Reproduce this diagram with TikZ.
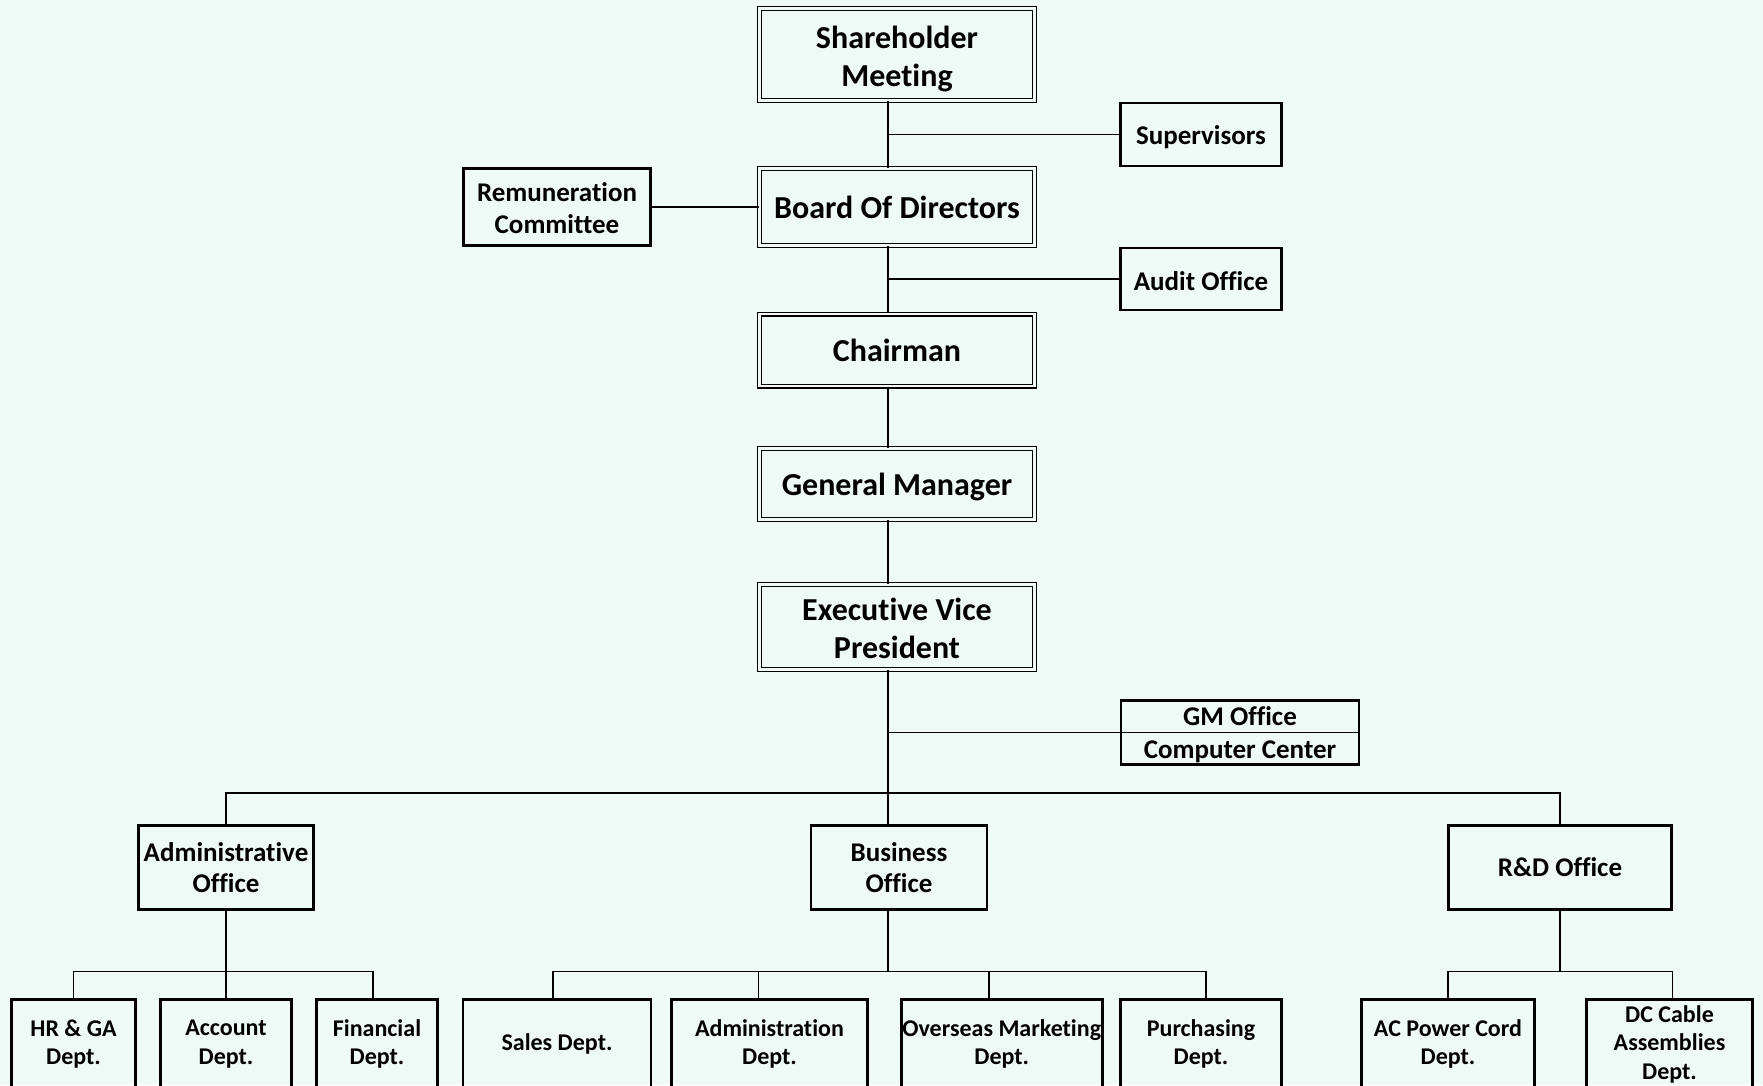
\documentclass[tikz,border=0pt]{standalone}
\usepackage{fontspec}
\setmainfont{Carlito}[Ligatures=NoCommon]
\usetikzlibrary{calc}
\definecolor{bg}{RGB}{239,250,247}
\begin{document}
\begin{tikzpicture}[x=1pt,y=-1pt,
  dbox/.style={draw, line width=1.2pt, double=bg, double distance=2.6pt, inner sep=0pt, align=center, minimum width=275pt, font=\bfseries\fontsize{32}{38}\selectfont},
  sbox/.style={draw, line width=2.6pt, inner sep=0pt, align=center, font=\bfseries\fontsize{27}{31.5}\selectfont},
  lbox/.style={sbox, minimum height=89pt, font=\bfseries\fontsize{24}{28.5}\selectfont},
  btxt/.style={inner sep=0pt, align=center, font=\bfseries\fontsize{32}{38}\selectfont},
  stxt/.style={inner sep=0pt, align=center, font=\bfseries\fontsize{27}{31.5}\selectfont},
  conn/.style={line width=1.5pt}]
\fill[bg] (0,0) rectangle (1763,1085);
\useasboundingbox (0,0) rectangle (1763,1085);
\coordinate (tr) at (888,0);
% main column
\node[dbox, minimum height=92pt] (sh) at (897,54.5) {};
\node[btxt] (sht) at ([yshift=-4.5pt]sh.center) {Shareholder\\Meeting};
\node[dbox, minimum height=77pt] (bd) at (897,207) {Board Of Directors};
\node[dbox, minimum height=72pt] (ch) at (897,350) {Chairman};
\node[dbox, minimum height=71pt] (gm) at (897,484) {};
\node[btxt] (gmt) at ([yshift=-3.4pt]gm.center) {General Manager};
\node[dbox, minimum height=85pt] (evp) at (897,627) {};
\node[btxt] (evpt) at ([yshift=-1.2pt]evp.center) {Executive Vice\\President};
% side boxes
\node[sbox, minimum width=161pt, minimum height=63pt] (sup) at (1201,134.5) {};
\node[stxt] (supt) at ([yshift=-3pt]sup.center) {Supervisors};
\node[sbox, minimum width=187pt, minimum height=77pt] (rem) at (557,207) {};
\node[stxt] (remt) at ([yshift=-1pt]rem.center) {Remuneration\\Committee};
\node[sbox, minimum width=161pt, minimum height=62pt] (aud) at (1201,279) {};
\node[stxt] (audt) at ([yshift=-2pt]aud.center) {Audit Office};
\node[sbox, minimum width=238pt, minimum height=64pt] (gmb) at (1240,732.5) {};
\node[stxt] (gmo) at (1240,716.5) {GM Office};
\node[stxt] (cc) at (1240,752) {Computer Center};
\draw[conn] (gmb.west) -- (gmb.east);
% offices
\node[sbox, minimum width=175pt, minimum height=84pt] (adm) at (226,867.5) {Administrative\\Office};
\node[sbox, minimum width=176pt, minimum height=84pt] (bo) at (899,867.5) {Business\\Office};
\node[sbox, minimum width=223pt, minimum height=84pt] (rd) at (1560,867.5) {R\&D Office};
% departments
\node[lbox, minimum width=124pt] (hr) at (73.5,1044) {HR \& GA\\Dept.};
\node[lbox, minimum width=131pt] (acc) at (226,1044) {Account\\Dept.};
\node[lbox, minimum width=121pt] (fin) at (377,1044) {Financial\\Dept.};
\node[lbox, minimum width=188pt] (sal) at (557,1044) {Sales Dept.};
\node[lbox, minimum width=196pt] (admd) at (769.5,1044) {Administration\\Dept.};
\node[lbox, minimum width=201pt] (ovs) at (1001.75,1044) {Overseas Marketing\\Dept.};
\node[lbox, minimum width=161pt] (pur) at (1201,1044) {Purchasing\\Dept.};
\node[lbox, minimum width=173pt] (ac) at (1448,1044) {AC Power Cord\\Dept.};
\node[lbox, minimum width=166pt] (dc) at (1669.5,1044) {DC Cable\\Assemblies\\Dept.};
% trunk
\draw[conn] (sh.south -| tr) -- (bd.north -| tr);
\draw[conn] (bd.south -| tr) -- (ch.north -| tr);
\draw[conn] (ch.south -| tr) -- (gm.north -| tr);
\draw[conn] (gm.south -| tr) -- (evp.north -| tr);
\draw[conn] (evp.south -| tr) -- (bo.north -| tr);
% side connectors
\draw[conn] (sup.west) -- (sup.west -| tr);
\draw[conn] (rem.east) -- (bd.west);
\draw[conn] (aud.west) -- (aud.west -| tr);
\draw[conn] (gmb.west) -- (gmb.west -| tr);
% office bus
\coordinate (bus) at (0,793);
\draw[conn] (adm.north) -- (adm.north |- bus) -- (rd.north |- bus) -- (rd.north);
% admin group
\coordinate (lb) at (0,971.5);
\draw[conn] (adm.south) -- (adm.south |- lb);
\draw[conn] (hr.north) -- (hr.north |- lb) -- ([xshift=-4pt]fin.north |- lb) -- ([xshift=-4pt]fin.north);
\draw[conn] (acc.north) -- (acc.north |- lb);
% business group
\draw[conn] (bo.south -| tr) -- (lb -| tr);
\draw[conn] ([xshift=-4pt]sal.north) -- ([xshift=-4pt]sal.north |- lb) -- ([xshift=5pt]pur.north |- lb) -- ([xshift=5pt]pur.north);
\draw[conn] ([xshift=-11pt]admd.north) -- ([xshift=-11pt]admd.north |- lb);
\draw[conn] ([xshift=-13pt]ovs.north) -- ([xshift=-13pt]ovs.north |- lb);
% R&D group
\draw[conn] (rd.south) -- (rd.south |- lb);
\draw[conn] (ac.north) -- (ac.north |- lb) -- ([xshift=3pt]dc.north |- lb) -- ([xshift=3pt]dc.north);
\end{tikzpicture}
\end{document}
